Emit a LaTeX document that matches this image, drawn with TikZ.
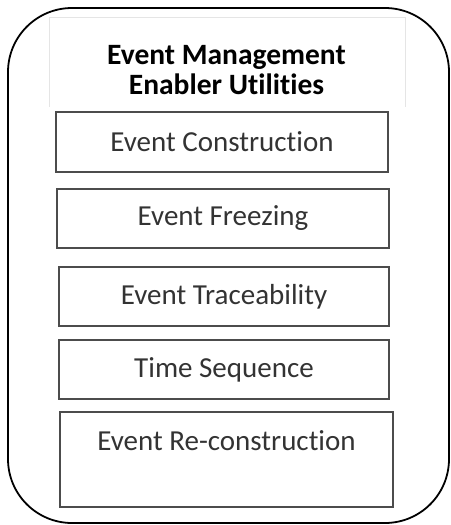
\documentclass[tikz,border=0pt]{standalone}
\usepackage{fontspec}
\setmainfont[Ligatures=NoCommon]{Carlito}
\begin{document}
\begin{tikzpicture}[x=1pt,y=-1pt,
  itembox/.style={draw=black!70, line width=1.3pt},
  itemtext/.style={text=black!80, font=\fontsize{29}{32}\selectfont, inner sep=0pt, anchor=center},
  titletext/.style={text=black, font=\bfseries\fontsize{29.5}{30.5}\selectfont, align=center, inner sep=0pt}]
\useasboundingbox (0,0) rectangle (450,525);
% outer rounded container
\draw[line width=1.8pt, rounded corners=64pt] (8,8) rectangle (449,523);
% faint title frame
\draw[black!10, line width=0.8pt] (49,107) -- (49,17) -- (405,17) -- (405,107);
\node[titletext] (title) at (226.5,70) {Event Management\\Enabler Utilities};
% items
\draw[itembox] (56,112) rectangle (388,172);
\node[itemtext] (c1) at (222,142) {Event Construction};
\draw[itembox] (57,189) rectangle (389,248);
\node[itemtext] (c2) at (223,218.5) {Event Freezing};
\draw[itembox] (59,267) rectangle (389,326);
\node[itemtext] (c3) at (224,296.5) {Event Traceability};
\draw[itembox] (59,340) rectangle (389,399);
\node[itemtext] (c4) at (224,369.5) {Time Sequence};
\draw[itembox] (60,412) rectangle (393,507);
\node[itemtext] (c5) at (226.5,441) {Event Re-construction};
\end{tikzpicture}
\end{document}
